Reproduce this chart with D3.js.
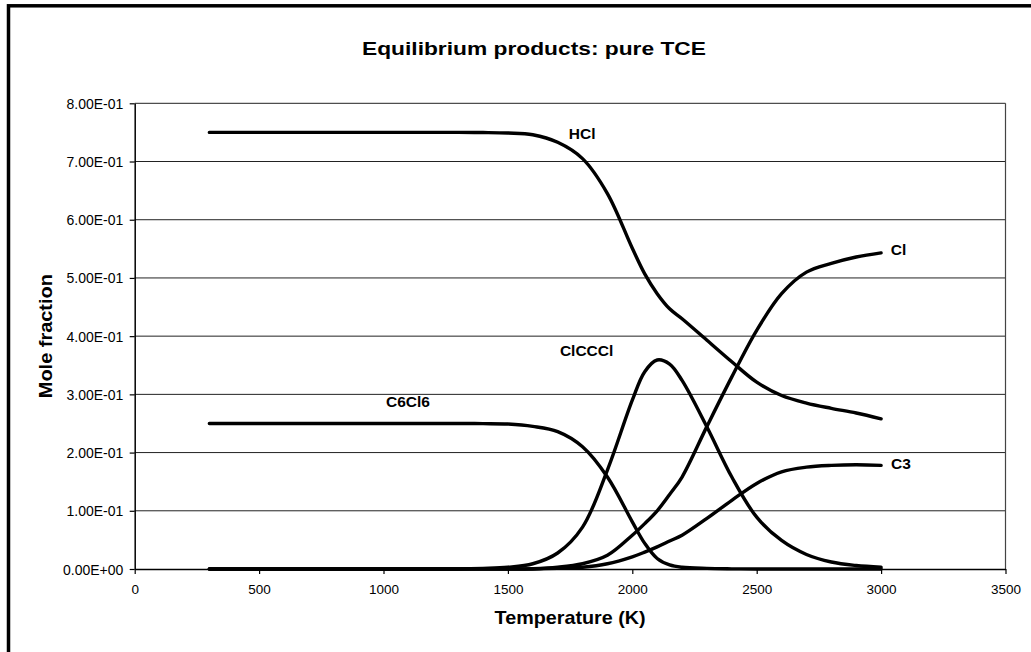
<!DOCTYPE html>
<html>
<head>
<meta charset="utf-8">
<script src="https://cdnjs.cloudflare.com/ajax/libs/d3/7.8.5/d3.min.js"></script>
<style>
body { margin: 0; background: #fff; }
text { font-family: "Liberation Sans", Arial, sans-serif; fill: #000; }
</style>
</head>
<body>
<div class="chart"></div>
<script>
// equilibrium products, pure TCE
var w = 1031, h = 652;

var temps = [300, 400, 500, 600, 700, 800, 900, 1000, 1100, 1200, 1300, 1400, 1500, 1600, 1700, 1800, 1900, 2000, 2050, 2100, 2150, 2200, 2300, 2400, 2500, 2600, 2700, 2800, 2900, 3000];
var hcl = [0.75, 0.75, 0.75, 0.75, 0.75, 0.75, 0.75, 0.75, 0.75, 0.75, 0.75, 0.7498, 0.749, 0.746, 0.733, 0.705, 0.645, 0.551, 0.507, 0.473, 0.447, 0.430, 0.393, 0.356, 0.321, 0.298, 0.285, 0.276, 0.268, 0.258];
var c6cl6 = [0.25, 0.25, 0.25, 0.25, 0.25, 0.25, 0.25, 0.25, 0.25, 0.25, 0.25, 0.2497, 0.249, 0.245, 0.236, 0.210, 0.158, 0.081, 0.044, 0.018, 0.007, 0.003, 0.001, 0.0003, 0, 0, 0, 0, 0, 0];
var clcccl = [0, 0, 0, 0, 0, 0, 0, 0, 0, 0, 0, 0.001, 0.003, 0.009, 0.0275, 0.072, 0.170, 0.290, 0.339, 0.359, 0.352, 0.324, 0.244, 0.158, 0.089, 0.049, 0.025, 0.012, 0.006, 0.003];
var cl = [0, 0, 0, 0, 0, 0, 0, 0, 0, 0, 0, 0, 0, 0.0005, 0.003, 0.009, 0.0235, 0.058, 0.078, 0.100, 0.128, 0.158, 0.245, 0.330, 0.410, 0.473, 0.510, 0.525, 0.536, 0.543];
var c3 = [0, 0, 0, 0, 0, 0, 0, 0, 0, 0, 0, 0, 0, 0, 0.001, 0.003, 0.009, 0.021, 0.029, 0.038, 0.048, 0.058, 0.087, 0.118, 0.147, 0.167, 0.175, 0.178, 0.179, 0.178];

var seriesNames = ["HCl", "C6Cl6", "ClCCCl", "Cl", "C3"];
var seriesValues = [hcl, c6cl6, clcccl, cl, c3];
// label anchors in data units (temperature, mole fraction)
var labelT = [1745, 1010, 1709, 3039, 3040];
var labelV = [0.739, 0.279, 0.366, 0.539, 0.171];

var xTicks = [0, 500, 1000, 1500, 2000, 2500, 3000, 3500];
var yTicks = [0, 0.1, 0.2, 0.3, 0.4, 0.5, 0.6, 0.7, 0.8];

var x = d3.scaleLinear().domain([0, 3500]).range([134.7, 1005.5]);
var y = d3.scaleLinear().domain([0, 0.8]).range([569, 103.3]);

var svg = d3.select(".chart")
    .append("svg")
    .attr("width", w)
    .attr("height", h);

svg.append("rect")
    .attr("width", w).attr("height", h)
    .attr("fill", "#fff");

// chart frame (runs off the right and bottom edge)
svg.append("rect")
    .attr("x", 8.5).attr("y", 5.8)
    .attr("width", 1100).attr("height", 700)
    .attr("fill", "none")
    .attr("stroke", "#000")
    .attr("stroke-width", 3.5);

// grid
svg.append("g")
    .selectAll("line")
    .data(yTicks.slice(1))
    .enter()
    .append("line")
    .attr("x1", x(0)).attr("x2", x(3500))
    .attr("y1", function(d) { return y(d); })
    .attr("y2", function(d) { return y(d); })
    .attr("stroke", "#222")
    .attr("stroke-width", 1);

svg.append("line")
    .attr("x1", x(3500)).attr("x2", x(3500))
    .attr("y1", y(0.8)).attr("y2", y(0))
    .attr("stroke", "#444")
    .attr("stroke-width", 1.2);

var xAxis = d3.axisBottom(x).tickValues(xTicks).tickSize(5).tickSizeOuter(0)
    .tickFormat(d3.format("d"));
var yAxis = d3.axisLeft(y).tickValues(yTicks).tickSize(5).tickSizeOuter(0)
    .tickFormat(function(d) {
        return d === 0 ? "0.00E+00" : d3.format(".2e")(d).replace("e-", "E-0");
    });

var gx = svg.append("g")
    .attr("transform", "translate(0," + y(0) + ")")
    .call(xAxis);
gx.select(".domain").attr("stroke", "#000").attr("stroke-width", 1.5);
gx.selectAll(".tick line").attr("stroke", "#000").attr("stroke-width", 1.2);
gx.selectAll(".tick text")
    .attr("y", 25.3)
    .attr("dy", null)
    .style("font-size", "13.5px")
    .style("font-family", "'Liberation Sans', Arial, sans-serif");

var gy = svg.append("g")
    .attr("transform", "translate(" + x(0) + ",0)")
    .call(yAxis);
gy.select(".domain").attr("stroke", "#000").attr("stroke-width", 1.5);
gy.selectAll(".tick line").attr("stroke", "#000").attr("stroke-width", 1.2);
gy.selectAll(".tick text")
    .attr("x", -11.4)
    .attr("dy", "0.36em")
    .style("font-size", "14px")
    .style("font-family", "'Liberation Sans', Arial, sans-serif");

// curves
var line = d3.line()
    .x(function(d, i) { return x(temps[i]); })
    .y(function(d) { return y(d); })
    .curve(d3.curveCatmullRom.alpha(0.5));

svg.append("g")
    .selectAll("path")
    .data(seriesValues)
    .enter()
    .append("path")
    .attr("d", line)
    .attr("fill", "none")
    .attr("stroke", "#000")
    .attr("stroke-width", 3.4)
    .attr("stroke-linecap", "round")
    .attr("stroke-linejoin", "round");

svg.append("g")
    .selectAll("text")
    .data(seriesNames)
    .enter()
    .append("text")
    .attr("x", function(d, i) { return x(labelT[i]); })
    .attr("y", function(d, i) { return y(labelV[i]); })
    .style("font-size", "15.5px")
    .style("font-weight", "bold")
    .text(function(d) { return d; });

svg.append("text")
    .attr("x", 534).attr("y", 55)
    .attr("text-anchor", "middle")
    .attr("textLength", 344)
    .attr("lengthAdjust", "spacingAndGlyphs")
    .style("font-size", "18px")
    .style("font-weight", "bold")
    .text("Equilibrium products: pure TCE");

svg.append("text")
    .attr("x", (x(0) + x(3500)) / 2).attr("y", 624)
    .attr("text-anchor", "middle")
    .attr("textLength", 151)
    .attr("lengthAdjust", "spacingAndGlyphs")
    .style("font-size", "18.5px")
    .style("font-weight", "bold")
    .text("Temperature (K)");

svg.append("text")
    .attr("transform", "translate(51.5," + (y(0) + y(0.8)) / 2 + ") rotate(-90)")
    .attr("text-anchor", "middle")
    .attr("textLength", 124)
    .attr("lengthAdjust", "spacingAndGlyphs")
    .style("font-size", "18.5px")
    .style("font-weight", "bold")
    .text("Mole fraction");
</script>
</body>
</html>
